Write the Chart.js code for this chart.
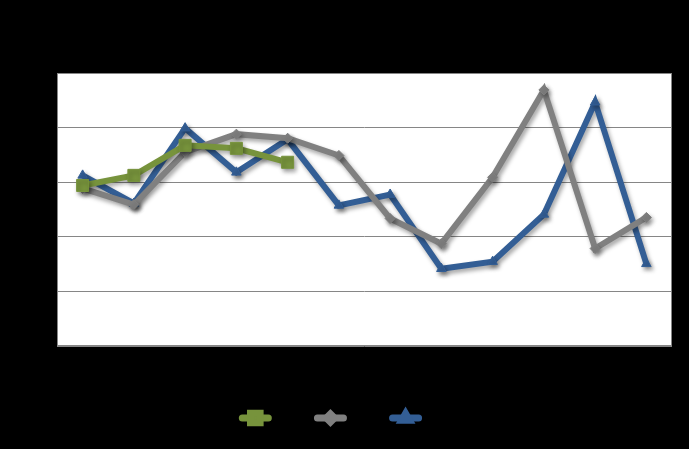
<!DOCTYPE html>
<html>
<head>
    <style>
        body {
            margin: 0;
            background: #000;
            overflow: hidden;
        }

        #wrap {
            width: 689px;
            height: 449px;
        }
    </style>
    <script src="https://cdn.jsdelivr.net/npm/chart.js"></script>
</head>
<body>
    <div id="wrap"><canvas id="lineChart"></canvas></div>

    <script>
        const categories = ['1', '2', '3', '4', '5', '6', '7', '8', '9', '10', '11', '12'];
        const seriesNames = ['Series1', 'Series2', 'Series3'];
        const greenValues = [58.8, 62.5, 73.5, 72.4, 67.3, null, null, null, null, null, null, null];
        const grayValues = [57.7, 51.8, 71.0, 77.6, 76.1, 69.8, 46.7, 37.5, 61.8, 93.8, 35.7, 47.1];
        const blueValues = [62.5, 52.2, 79.8, 63.6, 75.7, 51.5, 55.5, 28.3, 30.9, 48.2, 89.3, 30.1];
        const yTicks = [0, 20, 40, 60, 80, 100];

        // white plot area with a thin grey frame
        const plotArea = {
            id: 'plotArea',
            beforeDraw(chart) {
                const { ctx, chartArea: a } = chart;
                ctx.save();
                ctx.fillStyle = '#000';
                ctx.fillRect(0, 0, chart.width, chart.height);
                ctx.fillStyle = '#fff';
                ctx.fillRect(a.left, a.top, a.right - a.left, a.bottom - a.top);
                ctx.restore();
            },
            afterDatasetsDraw(chart) {
                const { ctx, chartArea: a } = chart;
                ctx.save();
                ctx.strokeStyle = '#868686';
                ctx.lineWidth = 1;
                ctx.strokeRect(a.left + 0.5, a.top + 0.5, a.right - a.left - 1, a.bottom - a.top - 1);
                ctx.restore();
            }
        };

        // soft drop shadow under the lines
        const lineShadow = {
            id: 'lineShadow',
            beforeDatasetDraw(chart) {
                const ctx = chart.ctx;
                ctx.save();
                ctx.shadowColor = 'rgba(0, 0, 0, 0.35)';
                ctx.shadowBlur = 4;
                ctx.shadowOffsetX = 2;
                ctx.shadowOffsetY = 3;
            },
            afterDatasetDraw(chart) {
                chart.ctx.restore();
            }
        };

        // legend swatch: rounded bar with the series marker on it
        const legendMarkers = {
            id: 'legendMarkers',
            afterDraw(chart) {
                const ctx = chart.ctx;
                const boxes = chart.legend.legendHitBoxes;
                const bw = chart.legend.options.labels.boxWidth;
                chart.data.datasets.forEach((ds, i) => {
                    const b = boxes[i];
                    if (!b) return;
                    const cy = b.top + b.height / 2;
                    ctx.save();
                    ctx.strokeStyle = ds.borderColor;
                    ctx.fillStyle = ds.borderColor;
                    ctx.lineWidth = 7;
                    ctx.lineCap = 'round';
                    ctx.beginPath();
                    ctx.moveTo(b.left + 3, cy);
                    ctx.lineTo(b.left + bw - 3, cy);
                    ctx.stroke();
                    Chart.helpers.drawPoint(ctx, {
                        pointStyle: ds.pointStyle,
                        radius: ds.pointRadius * 0.8,
                        borderWidth: 1
                    }, b.left + bw / 2, cy);
                    ctx.restore();
                });
            }
        };

        new Chart(document.getElementById('lineChart'), {
            type: 'line',
            data: {
                labels: categories,
                datasets: [{
                    label: seriesNames[0],
                    data: greenValues,
                    borderColor: '#77933C',
                    backgroundColor: '#77933C',
                    borderWidth: 6,
                    pointStyle: 'rect',
                    pointRadius: 8.5,
                    pointBorderWidth: 1
                }, {
                    label: seriesNames[1],
                    data: grayValues,
                    borderColor: '#808080',
                    backgroundColor: '#808080',
                    borderWidth: 6,
                    pointStyle: 'rectRot',
                    pointRadius: 5,
                    pointBorderWidth: 1
                }, {
                    label: seriesNames[2],
                    data: blueValues,
                    borderColor: '#335E95',
                    backgroundColor: '#335E95',
                    borderWidth: 6,
                    pointStyle: 'triangle',
                    pointRadius: 5.5,
                    pointBorderWidth: 1
                }]
            },
            options: {
                responsive: true,
                maintainAspectRatio: false,
                animation: false,
                layout: {
                    padding: { left: 20, right: 17, top: 73, bottom: 17 }
                },
                scales: {
                    x: {
                        offset: true,
                        grid: { display: false },
                        border: { display: false },
                        ticks: { display: false },
                        afterFit: s => { s.height = 56; }
                    },
                    y: {
                        min: yTicks[0],
                        max: yTicks[yTicks.length - 1],
                        afterBuildTicks: s => { s.ticks = yTicks.map(v => ({ value: v })); },
                        grid: { color: '#868686', lineWidth: 1, drawTicks: false },
                        border: { display: false },
                        ticks: { display: false },
                        afterFit: s => { s.width = 37; }
                    }
                },
                plugins: {
                    legend: {
                        position: 'bottom',
                        labels: {
                            color: '#000',
                            font: { family: 'Liberation Sans', size: 8 },
                            boxWidth: 32,
                            boxHeight: 7,
                            padding: 12,
                            generateLabels: chart => chart.data.datasets.map((ds, i) => ({
                                text: ds.label,
                                fillStyle: 'rgba(0,0,0,0)',
                                strokeStyle: 'rgba(0,0,0,0)',
                                lineWidth: 0,
                                fontColor: '#000',
                                datasetIndex: i
                            }))
                        }
                    },
                    tooltip: { enabled: false }
                }
            },
            plugins: [plotArea, lineShadow, legendMarkers]
        });
    </script>
</body>
</html>
